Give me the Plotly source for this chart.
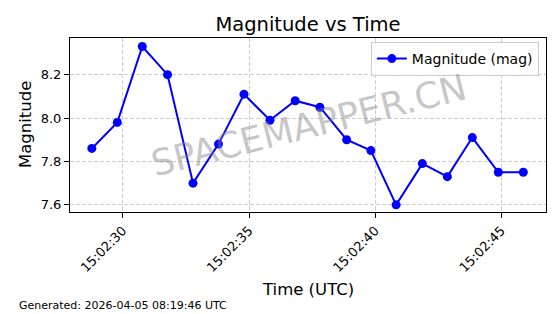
import plotly.graph_objects as go

# Data
times = [
    "2026-04-05 15:02:28.770", "2026-04-05 15:02:29.780", "2026-04-05 15:02:30.770",
    "2026-04-05 15:02:31.770", "2026-04-05 15:02:32.780", "2026-04-05 15:02:33.790",
    "2026-04-05 15:02:34.800", "2026-04-05 15:02:35.830", "2026-04-05 15:02:36.830",
    "2026-04-05 15:02:37.810", "2026-04-05 15:02:38.870", "2026-04-05 15:02:39.830",
    "2026-04-05 15:02:40.830", "2026-04-05 15:02:41.870", "2026-04-05 15:02:42.860",
    "2026-04-05 15:02:43.850", "2026-04-05 15:02:44.880", "2026-04-05 15:02:45.870",
]
magnitudes = [7.86, 7.98, 8.33, 8.20, 7.70, 7.88, 8.11, 7.99, 8.08, 8.05,
              7.90, 7.85, 7.60, 7.79, 7.73, 7.91, 7.75, 7.75]
x_ticks = ["2026-04-05 15:02:30", "2026-04-05 15:02:35",
           "2026-04-05 15:02:40", "2026-04-05 15:02:45"]
x_tick_labels = ["15:02:30", "15:02:35", "15:02:40", "15:02:45"]
y_ticks = [7.6, 7.8, 8.0, 8.2]
y_tick_labels = ["7.6", "7.8", "8.0", "8.2"]

FONT = "DejaVu Sans"

fig = go.Figure()
fig.add_trace(go.Scatter(
    x=times, y=magnitudes, mode="lines+markers", name="Magnitude (mag)",
    line=dict(color="#0000ff", width=2),
    marker=dict(color="#0000ff", size=9),
))

grid = dict(showgrid=True, gridcolor="#cfcfcf", griddash="4px,2px", gridwidth=0.8)

fig.update_layout(
    width=560, height=314,
    margin=dict(l=70, r=14, t=38, b=102),
    paper_bgcolor="white", plot_bgcolor="white",
    font=dict(family=FONT, color="black", size=13),
    title=dict(text="Magnitude vs Time", x=0.55, xanchor="center",
               y=1 - 24 / 314, yanchor="middle", yref="container",
               font=dict(size=19.5, family=FONT, color="black")),
    showlegend=True,
    legend=dict(x=0.985, y=0.977, xanchor="right", yanchor="top",
                bgcolor="rgba(255,255,255,0.8)", bordercolor="#cccccc",
                borderwidth=1, itemwidth=30,
                font=dict(size=14, family=FONT)),
    xaxis=dict(type="date",
               range=["2026-04-05 15:02:27.905", "2026-04-05 15:02:46.770"],
               tickmode="array", tickvals=x_ticks, ticktext=x_tick_labels,
               tickangle=-45, ticks="outside", ticklen=5, tickcolor="black",
               showline=True, linecolor="black", linewidth=1, mirror=True,
               zeroline=False, tickfont=dict(size=13), **grid),
    yaxis=dict(range=[7.567, 8.369],
               tickmode="array", tickvals=y_ticks, ticktext=y_tick_labels,
               ticks="outside", ticklen=5, tickcolor="black",
               showline=True, linecolor="black", linewidth=1, mirror=True,
               zeroline=False, tickfont=dict(size=13), **grid),
)

fig.add_annotation(text="SPACEMAPPER.CN", xref="paper", yref="paper",
                   x=0.5, y=0.5, showarrow=False, textangle=-14,
                   font=dict(size=36, family=FONT, color="rgba(128,128,128,0.45)"))
fig.add_annotation(text="Time (UTC)", xref="paper", yref="paper",
                   x=0.5, y=(212 - 289) / 174, showarrow=False,
                   xanchor="center", yanchor="middle",
                   font=dict(size=16.5, family=FONT))
fig.add_annotation(text="Magnitude", xref="paper", yref="paper",
                   x=(25 - 70) / 476, y=0.5, showarrow=False, textangle=-90,
                   xanchor="center", yanchor="middle",
                   font=dict(size=16.5, family=FONT))
fig.add_annotation(text="Generated: 2026-04-05 08:19:46 UTC", xref="paper", yref="paper",
                   x=(17 - 70) / 476, y=(212 - 305) / 174, showarrow=False,
                   xanchor="left", yanchor="middle",
                   font=dict(size=11, family=FONT))

fig.write_html("out.html")
